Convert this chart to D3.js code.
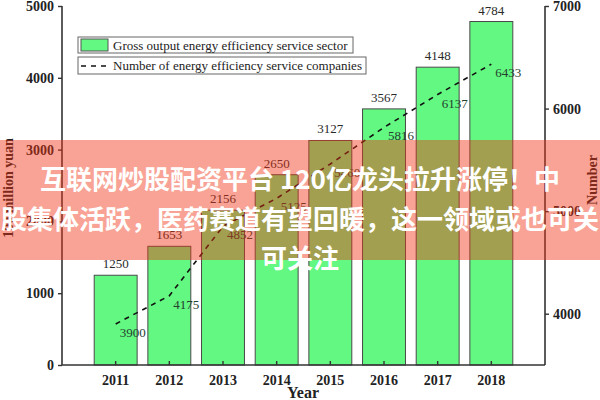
<!DOCTYPE html>
<html><head><meta charset="utf-8">
<script src="https://cdn.jsdelivr.net/npm/d3@7"></script>
<style>body{margin:0;background:#fff}svg{display:block}</style>
</head><body>
<svg id="c" width="600" height="400"></svg>
<script>
const years = ["2011","2012","2013","2014","2015","2016","2017","2018"];
const grossOutput = [1250,1653,2156,2650,3127,3567,4148,4784];
const companies = [3900,4175,4852,5125,5460,5816,6137,6433];
const companyLabels = ["3900","4175","4852","5125","5460","5816","6137","6433"];
const leftTicks = [0,1000,2000,3000,4000,5000];
const rightTicks = [4000,5000,6000,7000];
const legendLabels = ["Gross output energy efficiency service sector","Number of energy efficiency service companies"];
const overlayLines = ["互联网炒股配资平台 120亿龙头拉升涨停！中","股集体活跃，医药赛道有望回暖，这一领域或也可关","可关注"];

const svg = d3.select("#c");
const L=62,R=545,T=6,B=365;
const serif = "'Liberation Serif','Times New Roman',serif";
const x = d3.scaleBand().domain(years).range([L,R]).paddingInner(0.2).paddingOuter(0.6);
const yL = d3.scaleLinear().domain([0,5000]).range([B,T]);
const yR = d3.scaleLinear().domain([3500,7000]).range([B,T]);

// bars
svg.append("g").selectAll("rect").data(years).join("rect")
  .attr("x",d=>x(d)).attr("width",x.bandwidth())
  .attr("y",(d,i)=>yL(grossOutput[i])).attr("height",(d,i)=>B-yL(grossOutput[i]))
  .attr("fill","#63f881").attr("stroke","#4a4a4a").attr("stroke-width",1);

// bar labels
svg.append("g").selectAll("text").data(years).join("text")
  .attr("x",d=>x(d)+x.bandwidth()/2).attr("y",(d,i)=>yL(grossOutput[i])-7)
  .attr("text-anchor","middle").attr("font-family",serif).attr("font-size",13)
  .attr("fill","#2a2a2a").text((d,i)=>grossOutput[i]);

// line
const line = d3.line().x((d,i)=>x(years[i])+x.bandwidth()/2).y(d=>yR(d));
svg.append("path").datum(companies).attr("d",line).attr("fill","none")
  .attr("stroke","#111").attr("stroke-width",1.6).attr("stroke-dasharray","5,5");
svg.append("g").selectAll("text").data(companies).join("text")
  .attr("x",(d,i)=>x(years[i])+x.bandwidth()/2+4).attr("y",d=>yR(d)+13)
  .attr("font-family",serif).attr("font-size",13).attr("fill","#24402e")
  .text((d,i)=>companyLabels[i]);

// axes
const axL = svg.append("g").attr("transform",`translate(${L},0)`)
  .call(d3.axisLeft(yL).tickValues(leftTicks).tickSize(4).tickPadding(4).tickFormat(d3.format("d")));
const axR = svg.append("g").attr("transform",`translate(${R},0)`)
  .call(d3.axisRight(yR).tickValues(rightTicks).tickSize(4).tickPadding(4).tickFormat(d3.format("d")));
const axB = svg.append("g").attr("transform",`translate(0,${B})`)
  .call(d3.axisBottom(x).tickSize(-4).tickPadding(10).tickSizeOuter(0));
[axL,axR,axB].forEach(a=>{
  a.selectAll("path.domain").attr("stroke","#333").attr("stroke-width",1.6);
  a.selectAll(".tick line").attr("stroke","#333").attr("stroke-width",1.4);
  a.selectAll("text").attr("font-family",serif).attr("font-size",14).attr("font-weight","bold").attr("fill","#222");
});
axL.select("path.domain").attr("d",`M0,${B}V${T}`);
axR.select("path.domain").attr("d",`M0,${B}V${T}`);
axB.select("path.domain").attr("d",`M${L},0H${R}`);

// axis titles
svg.append("text").attr("x",303).attr("y",398).attr("text-anchor","middle")
  .attr("font-family",serif).attr("font-size",16).attr("font-weight","bold").attr("fill","#222").text("Year");
svg.append("text").attr("transform","translate(13,188) rotate(-90)").attr("text-anchor","middle")
  .attr("font-family",serif).attr("font-size",14).attr("font-weight","bold").attr("fill","#222").text("100 million yuan");
svg.append("text").attr("transform","translate(597,180) rotate(-90)").attr("text-anchor","middle")
  .attr("font-family",serif).attr("font-size",14).attr("font-weight","bold").attr("fill","#222").text("Number");

// legend
const lg = svg.append("g");
lg.append("rect").attr("x",78).attr("y",37).attr("width",275).attr("height",16).attr("fill","#fff").attr("stroke","#666");
lg.append("rect").attr("x",81).attr("y",39).attr("width",27).attr("height",12).attr("fill","#63f881").attr("stroke","#555");
lg.append("text").attr("x",113).attr("y",49.5).attr("font-family",serif).attr("font-size",13).attr("fill","#222").text(legendLabels[0]);
lg.append("rect").attr("x",78).attr("y",57).attr("width",288).attr("height",17).attr("fill","#fff").attr("stroke","#666");
lg.append("line").attr("x1",81).attr("x2",109).attr("y1",66).attr("y2",66).attr("stroke","#111").attr("stroke-width",1.4).attr("stroke-dasharray","5,5");
lg.append("text").attr("x",113).attr("y",70).attr("font-family",serif).attr("font-size",13).attr("fill","#222").text(legendLabels[1]);

// overlay banner
svg.append("rect").attr("x",0).attr("y",140).attr("width",600).attr("height",120).attr("fill","rgba(240,50,20,0.45)");
svg.append("g").selectAll("text").data(overlayLines).join("text")
  .attr("x",300).attr("y",(d,i)=>189+i*39.5).attr("text-anchor","middle")
  .attr("font-family","'Noto Sans CJK SC','Noto Sans',sans-serif").attr("font-weight","bold")
  .attr("font-size",26).attr("fill","#fff").text(d=>d);
</script>
</body></html>
